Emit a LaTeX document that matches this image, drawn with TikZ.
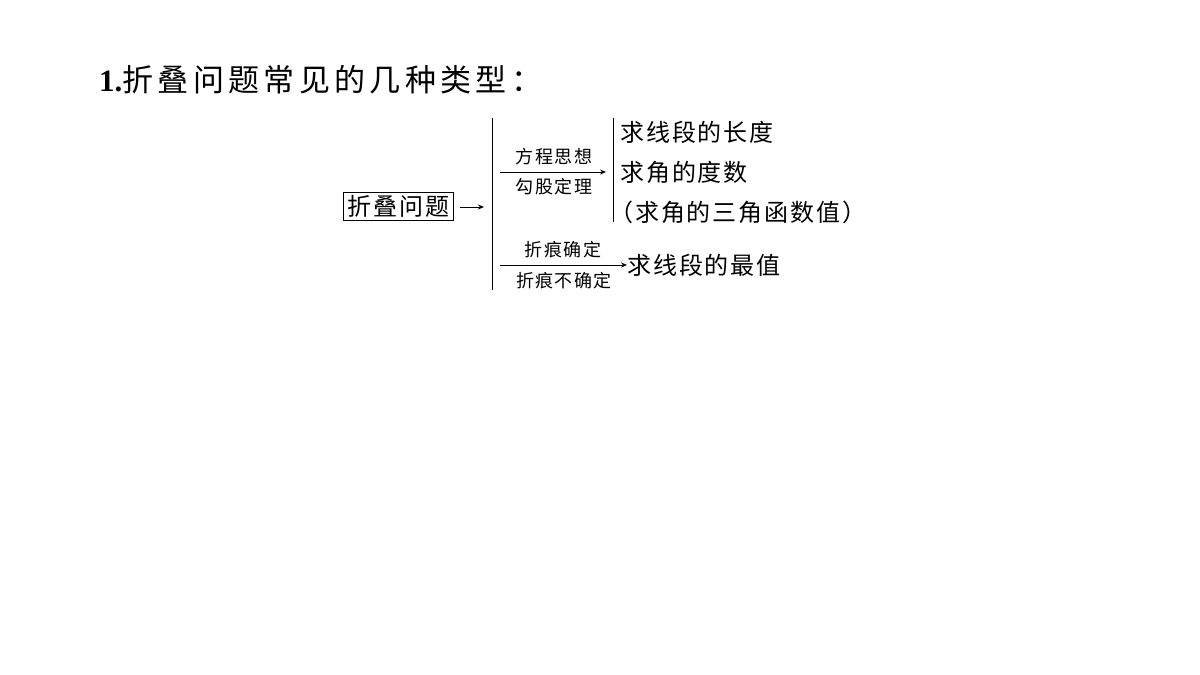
\documentclass[tikz,border=0pt]{standalone}
\usepackage{fontspec}
\setmainfont{Liberation Serif}
\newfontfamily\cjk[LetterSpace=8]{Noto Sans CJK SC}
\newfontfamily\cjkt[LetterSpace=14]{Noto Sans CJK SC}
\usetikzlibrary{arrows.meta}
\begin{document}
\begin{tikzpicture}[x=1pt,y=-1pt,
  big/.style={font=\cjk\fontsize{24}{26}\selectfont, inner sep=0pt, anchor=west},
  small/.style={font=\cjk\fontsize{18}{18}\selectfont, inner sep=0pt},
  arr/.style={-{Stealth[length=6pt,width=5pt]}, line width=0.8pt},
  bar/.style={line width=0.8pt}]
\useasboundingbox[fill=white] (0,0) rectangle (1200,675);
\node[anchor=west, inner sep=0pt, font=\fontsize{31}{32}\selectfont] (title) at (99,80) {\textbf{1.}{\cjkt\fontsize{31}{32}\selectfont 折叠问题常见的几种类型：}};
\node[big, draw, line width=0.7pt, inner xsep=4pt, inner ysep=3pt, anchor=center] (fz) at (398.5,206) {折叠问题};
\coordinate (v1t) at (492,118);
\coordinate (v1b) at (492,290);
\draw[bar] (v1t) -- (v1b);
\coordinate (fs) at (460,207);
\coordinate (fa) at (484,207);
\draw[arr] (fs) -- (fa);
\coordinate (a1s) at (500,172);
\coordinate (a1e) at (606,172);
\draw[arr] (a1s) -- (a1e);
\node[small] (l1) at (554,157) {方程思想};
\node[small] (l2) at (554,187) {勾股定理};
\coordinate (v2t) at (613,118);
\coordinate (v2b) at (613,222);
\draw[bar] (v2t) -- (v2b);
\node[big] (r1) at (620,132) {求线段的长度};
\node[big] (r2) at (620,172) {求角的度数};
\node[big] (r3) at (609,212) {（求角的三角函数值）};
\coordinate (a2s) at (500,265);
\node[big] (r4) at (627,265) {求线段的最值};
\draw[arr] (a2s) -- (r4.west);
\node[small] (l3) at (563,250) {折痕确定};
\node[small] (l4) at (564,281) {折痕不确定};
\end{tikzpicture}
\end{document}
